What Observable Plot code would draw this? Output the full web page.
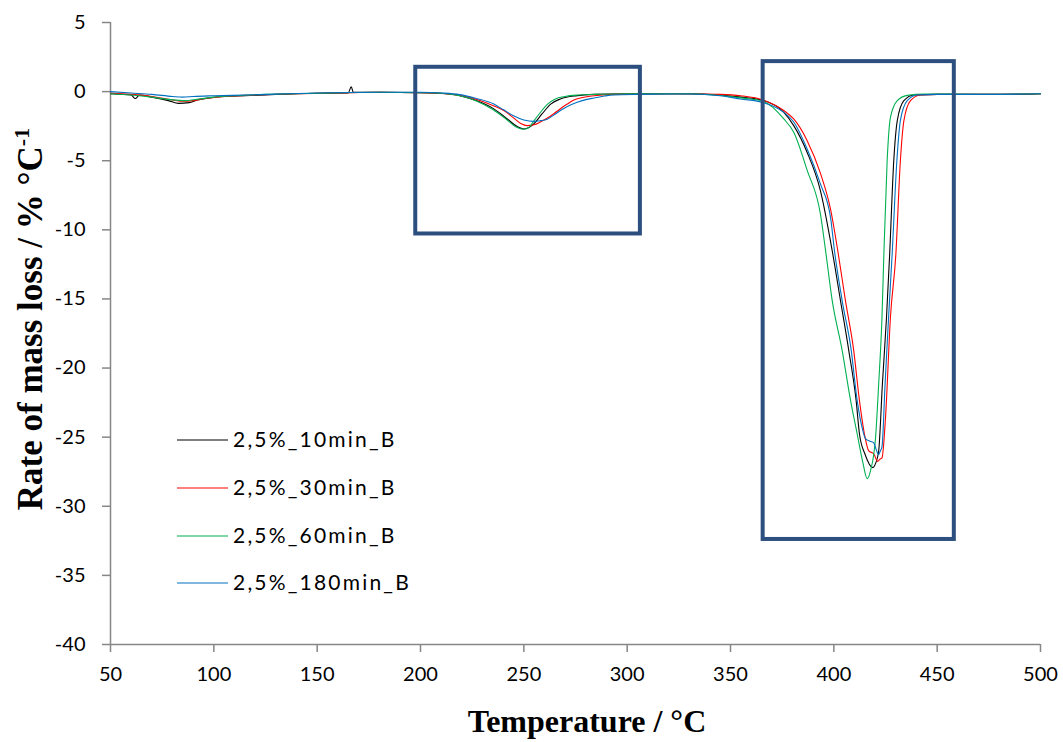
<!DOCTYPE html>
<html>
<head>
<meta charset="utf-8">
<script src="https://cdn.jsdelivr.net/npm/d3@7"></script>
<script src="https://cdn.jsdelivr.net/npm/@observablehq/plot@0.6"></script>
<style>
  html, body { margin: 0; padding: 0; background: #fff; }
  #chart { position: relative; width: 1063px; height: 742px; }
</style>
</head>
<body>
<div id="chart"></div>
<script>
// ---- Data ----
const seriesNames = ["2,5%_10min_B", "2,5%_30min_B", "2,5%_60min_B", "2,5%_180min_B"];
const seriesColors = ["#000000", "#ff0000", "#00b050", "#0070c0"];
const xTicks = [50, 100, 150, 200, 250, 300, 350, 400, 450, 500];
const yTicks = [5, 0, -5, -10, -15, -20, -25, -30, -35, -40];

// [temperature °C, rate %/°C]
const s10min = [[50,-0.15],[55,-0.2],[60,-0.25],[62,-0.5],[64,-0.25],[70,-0.4],[78,-0.65],[83,-0.85],[88,-0.8],[92,-0.6],[98,-0.45],[105,-0.35],[115,-0.3],[130,-0.2],[150,-0.12],[165,-0.1],[166.5,0.35],[167.5,-0.05],[180,-0.05],[200,-0.07],[210,-0.12],[219,-0.29],[227,-0.65],[235.5,-1.25],[242,-1.98],[246.8,-2.53],[250,-2.7],[252.5,-2.6],[254.8,-2.34],[258.9,-1.6],[263,-0.9],[267.7,-0.53],[275.8,-0.29],[284,-0.2],[300,-0.15],[330,-0.15],[345,-0.25],[355,-0.4],[366,-0.65],[375.8,-1.5],[380.6,-2.46],[387.1,-4.4],[393.5,-7.16],[399.2,-11.5],[403.2,-15.1],[407.2,-18.7],[410.8,-22.36],[412.4,-24.77],[415,-26.2],[418.9,-27.2],[420.2,-26.9],[421.7,-26],[423.5,-21.15],[425.5,-16.3],[427,-11.8],[429,-5],[430.7,-2.1],[433.9,-0.65],[438.7,-0.24],[450,-0.2],[470,-0.2],[490,-0.2],[500,-0.15]];
const s30min = [[50,-0.1],[60,-0.2],[70,-0.35],[80,-0.6],[85,-0.7],[90,-0.65],[96,-0.5],[105,-0.35],[120,-0.25],[140,-0.15],[160,-0.1],[180,-0.05],[200,-0.08],[212,-0.15],[220,-0.3],[228,-0.6],[235,-1.0],[240.3,-1.37],[245,-1.9],[248.5,-2.3],[251.6,-2.46],[255,-2.4],[258,-2.2],[261,-1.95],[264.5,-1.6],[268,-1.2],[271,-0.9],[274,-0.62],[277.4,-0.46],[284,-0.3],[295,-0.18],[320,-0.15],[345,-0.2],[355,-0.3],[366,-0.62],[375.8,-1.37],[380.6,-1.98],[387.1,-3.55],[393.5,-5.9],[398.4,-8.5],[401.9,-11.5],[405.6,-15.1],[409.6,-18.7],[412.4,-22.36],[414.8,-24.77],[416.9,-26],[419.3,-26.2],[421.2,-26.75],[422.3,-26.6],[423.3,-26.5],[425,-23.6],[427.4,-16.3],[430,-11.8],[432.2,-5],[433.9,-2.1],[437.1,-0.65],[441.9,-0.24],[450,-0.2],[475,-0.2],[500,-0.15]];
const s60min = [[50,-0.15],[60,-0.25],[70,-0.4],[80,-0.6],[86,-0.65],[92,-0.55],[100,-0.4],[110,-0.3],[125,-0.2],[150,-0.12],[180,-0.05],[200,-0.08],[210,-0.12],[219,-0.3],[227,-0.68],[235,-1.3],[241.5,-2.0],[246.5,-2.58],[250,-2.72],[252.5,-2.6],[254,-2.3],[257.5,-1.6],[261.5,-0.9],[265,-0.55],[270,-0.35],[276,-0.25],[285,-0.2],[300,-0.15],[330,-0.15],[345,-0.28],[355,-0.45],[366,-0.72],[375.8,-1.98],[380.6,-2.94],[387.1,-5.7],[393.5,-8.85],[396,-11.5],[399.2,-15.1],[404,-18.7],[408.1,-22.36],[411.3,-24.77],[414,-26.8],[416.1,-28],[417.8,-27.4],[420.2,-25],[421.7,-21.15],[423.3,-16.3],[424.2,-11.8],[425.8,-5],[427.4,-1.86],[430.7,-0.65],[435.5,-0.27],[443.5,-0.17],[470,-0.2],[500,-0.15]];
const s180min = [[50,0.0],[60,-0.1],[70,-0.2],[80,-0.35],[85,-0.4],[90,-0.35],[100,-0.3],[115,-0.25],[130,-0.18],[150,-0.1],[180,-0.05],[200,-0.05],[210,-0.1],[219,-0.22],[227,-0.5],[235.5,-0.9],[240,-1.3],[245,-1.74],[250,-2.05],[254.8,-2.15],[258,-2.1],[261.3,-2.0],[264.5,-1.7],[267.7,-1.37],[272,-1.0],[275.8,-0.77],[280,-0.58],[283.9,-0.46],[289,-0.32],[293.5,-0.24],[305,-0.2],[330,-0.17],[345,-0.3],[354.8,-0.53],[366,-0.8],[375.8,-1.5],[380.6,-2.2],[387.1,-4.15],[393.5,-6.68],[398.4,-9.1],[400.3,-11.5],[404,-15.1],[408.4,-18.7],[411.3,-22.36],[414,-24.5],[415.3,-25.1],[417.5,-25.3],[419.3,-25.4],[420.5,-25.9],[421.7,-26.27],[422.5,-26],[423.3,-25.7],[424.8,-21.15],[426.5,-16.3],[428.2,-11.8],[430.5,-5],[432.2,-2.1],[435.5,-0.65],[440.3,-0.24],[450,-0.2],[475,-0.2],[500,-0.15]];

// highlight boxes [x1, x2, y1, y2]
const boxX1 = [197.7, 365.8];
const boxX2 = [306.4, 458.3];
const boxY1 = [-10.3, -32.4];
const boxY2 = [1.76, 2.17];

// ---- Build tables ----
const allSeries = [s10min, s30min, s60min, s180min];
const rows = allSeries.flatMap((s, i) => s.map(([t, r]) => ({series: seriesNames[i], t, r})));
const boxes = boxX1.map((_, i) => ({x1: boxX1[i], x2: boxX2[i], y1: boxY1[i], y2: boxY2[i]}));

const axisColor = "#868686";
const tickFont = "Lato, 'Open Sans', sans-serif";
const fmt = d => String(d);

const plot = Plot.plot({
  width: 1063,
  height: 742,
  marginLeft: 110,
  marginRight: 23,
  marginTop: 22,
  marginBottom: 98,
  style: {fontFamily: tickFont, fontSize: "20px", color: "#000", background: "#fff"},
  x: {domain: [50, 500]},
  y: {domain: [-40, 5]},
  color: {domain: seriesNames, range: seriesColors},
  marks: [
    Plot.ruleX([50], {stroke: axisColor, strokeWidth: 1.5}),
    Plot.ruleY([-40], {stroke: axisColor, strokeWidth: 1.5}),
    Plot.axisX({ticks: xTicks, tickFormat: fmt, tickSize: 8, tickPadding: 14, stroke: axisColor, strokeWidth: 1.5, label: null, fontSize: 20, fill: "#000"}),
    Plot.axisY({ticks: yTicks, tickFormat: fmt, tickSize: 8, tickPadding: 17, stroke: axisColor, strokeWidth: 1.5, label: null, fontSize: 20, fill: "#000"}),
    Plot.line(rows, {x: "t", y: "r", z: "series", stroke: "series", strokeWidth: 1.1, curve: "monotone-x"}),
    Plot.rect(boxes, {x1: "x1", x2: "x2", y1: "y1", y2: "y2", fill: "none", stroke: "#2c4f80", strokeWidth: 4})
  ]
});

document.getElementById("chart").appendChild(plot);

// ---- Axis titles and legend (inside the same SVG) ----
const svg = d3.select(plot);
const serif = "'Liberation Serif', 'Times New Roman', serif";

svg.append("text")
  .attr("x", 587).attr("y", 732)
  .attr("text-anchor", "middle")
  .attr("font-family", serif).attr("font-weight", "bold").attr("font-size", 32)
  .attr("fill", "#000")
  .text("Temperature / °C");

const yt = svg.append("text")
  .attr("transform", "translate(42,319) rotate(-90)")
  .attr("text-anchor", "middle")
  .attr("font-family", serif).attr("font-weight", "bold").attr("font-size", 35)
  .attr("fill", "#000");
yt.append("tspan").text("Rate of mass loss / % °C");
yt.append("tspan").attr("font-size", 22).attr("dy", -13).text("-1");

const legendY = [440, 488, 536, 583];
const lg = svg.append("g").attr("text-anchor", "start");
seriesNames.forEach((name, i) => {
  lg.append("line").attr("x1", 177).attr("x2", 228).attr("y1", legendY[i]).attr("y2", legendY[i])
    .attr("stroke", seriesColors[i]).attr("stroke-width", 1.2);
  lg.append("text").attr("x", 233).attr("y", legendY[i] + 7)
    .attr("text-anchor", "start")
    .attr("font-family", tickFont).attr("font-size", 21)
    .attr("letter-spacing", 2.2)
    .attr("fill", "#000")
    .text(name);
});
</script>
</body>
</html>
